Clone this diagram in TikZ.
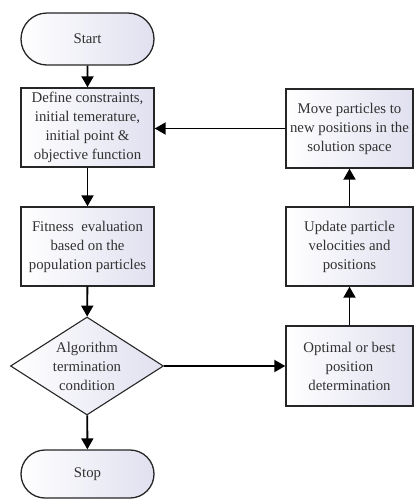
\documentclass[tikz,border=0pt]{standalone}
\usepackage{fontspec}
\setmainfont{Liberation Serif}
\usetikzlibrary{shapes.geometric,shapes.misc,arrows.meta,shadows}
\definecolor{boxend}{RGB}{224,224,240}
\definecolor{txt}{RGB}{50,50,50}
\begin{document}
\begin{tikzpicture}[x=1pt,y=-1pt,
  every node/.style={font=\fontsize{14.8pt}{19pt}\selectfont, text=txt, align=center, inner sep=0pt},
  box/.style={rectangle, draw=black!85, line width=1.4pt, left color=white, right color=boxend,
    drop shadow={shadow xshift=0.8pt, shadow yshift=-0.8pt, fill=black!50, opacity=0.6}},
  term/.style={rounded rectangle, draw=black!85, line width=1.3pt, left color=white, right color=boxend},
  dec/.style={diamond, draw=black!85, line width=1.1pt, left color=white, right color=boxend, aspect=1.56},
  arr/.style={line width=1.9pt, draw=black, -{Triangle[length=11pt,width=12pt]}}
]
\useasboundingbox (0,0) rectangle (414,499);
\node[term, minimum width=133pt, minimum height=52pt] (start) at (87.5,39) {Start};
\node[box, minimum width=133pt, minimum height=79pt] (define) at (87.5,127.5) {Define constraints,\\initial temerature,\\initial point \&\\objective function};
\node[box, minimum width=127pt, minimum height=79pt] (move) at (349.5,128.5) {Move particles to\\new positions in the\\solution space};
\node[box, minimum width=133pt, minimum height=79pt] (fit) at (87.5,246.5) {Fitness \ evaluation\\based on the\\population particles};
\node[box, minimum width=127pt, minimum height=79pt] (upd) at (349.5,246.5) {Update particle\\velocities and\\positions};
\node[dec, minimum width=153pt, minimum height=98pt] (cond) at (87,366) {Algorithm\\termination\\condition};
\node[box, minimum width=127pt, minimum height=80pt] (opt) at (349.5,366) {Optimal or best\\position\\determination};
\node[term, minimum width=133pt, minimum height=48pt] (stop) at (87.5,474) {Stop};
\draw[arr] (start) -- (define);
\draw[arr] (define) -- (fit);
\draw[arr] (fit) -- (cond);
\draw[arr] (cond) -- (stop);
\draw[arr] (cond.east) -- (opt.west);
\draw[arr] (opt) -- (upd);
\draw[arr] (upd) -- (move);
\draw[arr] (move.west) -- (define.east |- move.west);
\end{tikzpicture}
\end{document}
